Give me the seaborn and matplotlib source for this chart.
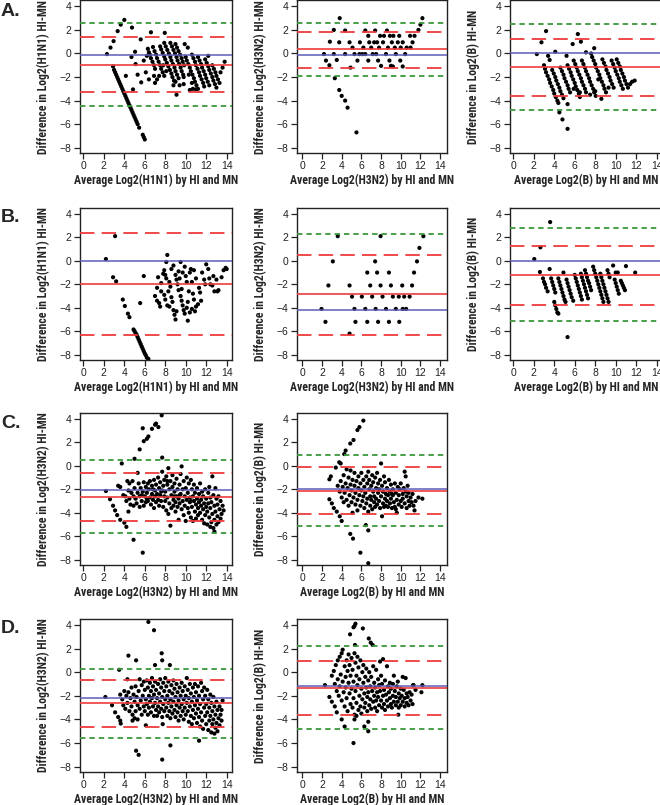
import matplotlib
matplotlib.use("Agg")
import matplotlib.pyplot as plt
import seaborn as sns
import pandas as pd

# ---------------- data ----------------
# Row A
A1_pts = [(2.3,-0.05),(2.65,0.5),(2.95,1.05),(3.35,1.9),(3.65,2.45),(4.0,2.85),
 (2.9,-1.1),(3.0,-1.4),(3.1,-1.6),(3.2,-1.8),(3.3,-2.0),(3.4,-2.2),(3.5,-2.4),(3.6,-2.6),(3.7,-2.8),
 (3.8,-3.0),(3.9,-3.2),(4.0,-3.4),(4.1,-3.6),(4.2,-3.8),(4.3,-4.0),(4.4,-4.2),(4.5,-4.4),(4.6,-4.6),
 (4.7,-4.8),(4.8,-5.0),(4.9,-5.2),(5.0,-5.4),(5.1,-5.6),(5.2,-5.8),(5.3,-6.0),(5.45,-6.3),(5.8,-6.9),(5.9,-7.1),(6.0,-7.3),
 (4.75,2.2),(5.6,1.2),(4.7,-0.3),(5.05,0.15),(5.1,-0.9),(5.3,-1.8),(4.15,-1.9),(4.85,-3.05),(5.65,-2.45),
 (6.1,-1.6),(6.4,-2.2),(6.6,1.8),(7.95,1.75),(9.1,-3.5),(5.9,-0.6),(6.2,-0.2),
 (6.3,0.4),(6.4,0.1),(6.5,-0.1),(6.6,-0.4),(6.75,-0.7),(6.9,-1.0),(7.0,-1.3),
 (6.8,0.55),(6.95,0.2),(7.1,-0.1),(7.2,-0.4),(7.35,-0.7),(7.5,-1.0),(7.6,-1.3),(7.75,-1.6),(7.9,-1.9),
 (7.5,0.6),(7.6,0.35),(7.75,0.05),(7.9,-0.25),(8.0,-0.5),(8.15,-0.8),(8.3,-1.1),(8.45,-1.4),(8.6,-1.7),(8.7,-2.0),(8.85,-2.3),
 (7.9,0.9),(8.05,0.6),(8.2,0.3),(8.35,0.0),(8.5,-0.3),(8.6,-0.6),(8.75,-0.9),(8.9,-1.2),(9.0,-1.5),(9.15,-1.8),(9.3,-2.1),
 (8.5,0.9),(8.65,0.6),(8.8,0.3),(8.95,0.0),(9.1,-0.3),(9.2,-0.6),(9.35,-0.9),(9.5,-1.2),(9.6,-1.5),(9.75,-1.8),
 (9.0,0.8),(9.15,0.5),(9.3,0.2),(9.45,-0.1),(9.6,-0.4),(9.7,-0.7),(9.85,-1.0),
 (7.2,-2.2),(7.4,-1.9),(7.0,-2.5),(6.9,-1.9),(7.8,-1.0),(8.1,-1.5),(8.8,-2.7),(9.0,-2.4),(9.4,-2.7),(9.8,-2.6),(9.9,0.8),(10.2,0.5),
 (10.0,-0.3),(10.1,-0.6),(10.25,-0.9),(10.4,-1.2),(10.5,-1.5),(10.65,-1.8),(10.8,-2.1),(10.9,-2.4),(11.05,-2.7),(11.2,-3.0),
 (10.6,-0.1),(10.75,-0.4),(10.9,-0.7),(11.0,-1.0),(11.15,-1.3),(11.3,-1.6),(11.4,-1.9),(11.55,-2.2),(11.7,-2.5),(11.8,-2.8),
 (11.2,-0.3),(11.35,-0.6),(11.5,-0.9),(11.6,-1.2),(11.75,-1.5),(11.9,-1.8),(12.0,-2.1),(12.15,-2.4),(12.3,-2.7),
 (11.9,-0.5),(12.05,-0.8),(12.2,-1.1),(12.3,-1.4),(12.45,-1.7),(12.6,-2.0),(12.7,-2.3),(12.85,-2.6),(13.0,-2.9),
 (12.6,-1.0),(12.75,-1.3),(12.9,-1.6),(13.0,-1.9),(13.15,-2.2),(13.3,-2.5),
 (10.4,-3.1),(10.7,-3.0),(11.0,-3.05),(13.4,-1.6),(13.6,-1.2),(13.8,-0.7),(12.2,-0.2),(10.6,-2.5),(9.8,-2.0),(10.3,-1.8)]

A2_pts = [(2.2,-0.05),(2.4,-0.6),(2.75,-1.0),(2.8,1.0),(3.2,2.0),(3.2,-0.05),(3.3,-2.1),(3.5,-0.55),
 (3.75,0.95),(3.8,3.0),(3.75,-3.1),(4.0,-3.6),(4.35,-4.0),(4.6,-4.6),(4.35,1.95),(4.35,-0.05),(4.8,0.95),
 (4.9,-1.2),(5.1,0.5),(5.5,-6.7),(5.3,-0.05),(5.6,-0.6),(5.85,0.95),(5.8,-0.05),(6.2,0.5),(6.4,1.95),
 (6.4,-0.05),(6.7,1.5),(6.8,0.95),(6.7,-0.6),(7.0,0.5),(7.15,-0.05),(7.4,1.95),(7.5,-0.05),(7.6,0.95),
 (7.7,-0.6),(7.8,0.5),(7.9,1.5),(8.0,-1.05),(8.2,0.95),(8.6,1.95),(8.3,1.5),(8.5,-0.05),(8.7,0.5),
 (8.85,-0.6),(8.9,1.5),(9.0,-1.05),(9.1,0.95),(9.2,-1.1),(9.25,1.5),(9.4,0.5),(9.5,-0.05),(9.7,0.95),
 (9.85,1.5),(9.95,-0.6),(10.0,0.5),(10.2,-1.1),(10.2,0.95),(10.45,-0.05),(10.6,0.5),(10.95,1.5),
 (11.0,0.5),(11.2,0.95),(11.4,1.5),(11.8,2.0),(12.0,2.45),(12.2,3.0),(7.3,0.95),(6.1,-0.05)]

A3_pts = [(2.3,-0.05),(2.75,0.95),(3.2,1.9),(3.4,-0.2),(3.55,-0.55),(4.1,0.15),(4.5,-5.0),(4.8,-5.6),
 (5.3,-6.4),(5.3,-4.3),(5.2,-0.2),(5.8,0.8),(6.3,1.65),(6.6,1.0),(7.1,0.1),(7.9,0.45),
 (3.0,-1.0),(3.1,-1.3),(3.2,-1.6),(3.35,-1.9),(3.5,-2.2),(3.6,-2.5),(3.75,-2.8),(3.9,-3.1),(4.0,-3.4),(4.15,-3.7),(4.3,-4.0),(4.4,-4.2),
 (3.8,-1.4),(3.95,-1.7),(4.1,-2.0),(4.2,-2.3),(4.35,-2.6),(4.5,-2.9),(4.6,-3.2),(4.75,-3.5),(4.9,-3.8),
 (4.6,-1.2),(4.75,-1.5),(4.9,-1.8),(5.0,-2.1),(5.15,-2.4),(5.3,-2.7),(5.4,-3.0),(5.55,-3.3),
 (5.3,-1.0),(5.45,-1.3),(5.6,-1.6),(5.7,-1.9),(5.85,-2.2),(6.0,-2.5),(6.1,-2.8),(6.25,-3.1),(6.4,-3.4),(6.5,-3.7),
 (5.9,-0.6),(6.05,-0.9),(6.2,-1.2),(6.3,-1.5),(6.45,-1.8),(6.6,-2.1),(6.7,-2.4),(6.85,-2.7),(7.0,-3.0),(7.1,-3.3),
 (6.7,-0.6),(6.85,-0.9),(7.0,-1.2),(7.1,-1.5),(7.25,-1.8),(7.4,-2.1),(7.5,-2.4),(7.65,-2.7),(7.8,-3.0),(7.9,-3.3),(8.05,-3.6),
 (7.6,0.0),(7.7,-0.3),(7.85,-0.6),(8.0,-0.9),(8.1,-1.2),(8.25,-1.5),(8.4,-1.8),(8.5,-2.1),(8.65,-2.4),(8.8,-2.7),(8.9,-3.0),(9.05,-3.3),(8.6,-3.85),
 (8.7,-0.5),(8.85,-0.8),(9.0,-1.1),(9.1,-1.4),(9.25,-1.7),(9.4,-2.0),(9.5,-2.3),(9.65,-2.6),(9.8,-2.9),
 (9.6,-0.6),(9.75,-0.9),(9.9,-1.2),(10.0,-1.5),(10.15,-1.8),(10.3,-2.1),(10.4,-2.4),(10.55,-2.7),(10.7,-3.0),
 (10.1,-0.5),(10.25,-0.8),(10.4,-1.1),(10.5,-1.4),(10.65,-1.7),(10.8,-2.0),(10.9,-2.3),(11.05,-2.6),(11.2,-2.9),
 (11.4,-2.6),(11.6,-2.4),(11.85,-2.3),(8.3,-2.2),(9.3,-2.9),(6.5,-3.3),(7.5,-3.5),(5.9,-3.0),(8.0,-3.2)]

# Row B
B1_pts = [(2.2,0.15),(3.1,2.1),(2.9,-1.4),(3.2,-1.75),(3.85,-3.3),(4.05,-3.85),(4.35,-4.5),(4.5,-4.8),
 (5.55,-3.6),(5.9,-1.3),
 (4.9,-5.85),(5.0,-6.0),(5.1,-6.15),(5.2,-6.3),(5.3,-6.5),(5.4,-6.7),(5.5,-6.9),(5.6,-7.1),(5.7,-7.3),
 (5.8,-7.5),(5.9,-7.7),(6.0,-7.9),(6.1,-8.05),(6.2,-8.25),(6.35,-8.35),
 (7.3,-1.4),(7.2,-2.3),(7.0,-3.0),(7.2,-3.4),(7.4,-3.6),(7.5,-3.9),(7.6,-2.6),(7.8,-1.1),(7.9,-0.8),
 (8.0,-1.2),(8.1,-1.5),(7.9,-2.9),(8.0,-3.3),(8.2,-3.8),(8.1,-0.1),(8.2,0.5),(8.4,-1.8),(8.5,-2.2),
 (8.3,-2.6),(8.6,-3.1),(8.7,-3.5),(8.8,-4.2),(8.9,-4.6),(9.0,-5.0),(8.8,-0.4),(9.0,-1.2),(9.1,-1.6),
 (9.2,-2.0),(9.3,-0.9),(9.4,-1.5),(9.5,-3.0),(9.6,-3.4),(9.7,-3.8),(9.8,-4.2),(9.9,-4.5),(9.5,-0.1),
 (9.6,-2.4),(9.7,-1.0),(9.9,-0.5),(10.0,-1.3),(10.1,-1.8),(10.2,-5.1),(10.1,-4.0),(10.3,-2.6),(10.4,-1.0),
 (10.5,-0.7),(10.6,-1.8),(10.7,-2.8),(10.8,-3.3),(10.9,-4.3),(10.6,-4.1),(10.8,-0.8),(11.0,-1.5),
 (11.3,-2.3),(11.4,-2.7),(11.5,-3.4),(11.6,-1.0),(11.8,-1.6),(11.9,-2.0),(12.0,-0.3),(12.2,-0.7),
 (12.3,-1.5),(12.4,-2.0),(12.7,-1.3),(12.8,-2.6),(13.0,-1.6),(13.1,-2.6),(13.2,-2.5),(13.5,-1.4),
 (13.7,-0.8),(14.0,-0.7),(12.6,-2.1),(11.2,-3.7),(10.2,-3.5),(9.3,-2.5),(8.6,-0.7),(7.6,-1.9),
 (8.4,-3.9),(9.1,-4.3),(10.4,-4.4),(11.0,-3.9),(13.9,-0.6)]

B2_pts = [(1.95,-4.1),(2.35,-5.2),(2.65,-2.1),(3.1,-0.05),(3.6,2.1),(4.8,-2.1),(4.8,-6.2),(5.05,-3.05),
 (5.3,-4.1),(5.4,-5.2),(6.05,-3.05),(6.4,-4.1),(6.6,-1.0),(6.6,-5.2),(6.9,-2.1),(7.1,-3.05),(7.4,-0.05),
 (7.45,-4.1),(7.6,-1.0),(7.7,-5.2),(7.95,2.1),(7.95,-2.1),(8.15,-3.05),(8.5,-4.1),(8.8,-1.0),(8.8,-5.2),
 (9.0,-2.1),(9.2,-3.05),(9.5,-4.1),(9.8,-3.05),(9.85,-5.2),(10.15,-2.1),(10.35,-3.05),(10.2,-4.1),
 (10.55,-4.1),(10.9,-3.05),(11.15,-2.1),(11.35,-1.0),(11.65,-0.05),(11.9,1.1),(12.3,2.1)]

B3_pts = [(2.05,0.15),(2.65,1.15),(2.6,-0.95),(3.6,3.3),(3.55,-0.7),(5.3,-6.5),(4.9,-1.0),
 (2.9,-1.5),(3.0,-1.8),(3.1,-2.0),(3.2,-2.3),(3.35,-2.6),
 (3.7,-1.5),(3.8,-1.8),(3.9,-2.1),(4.0,-2.4),(4.1,-2.7),
 (4.0,-3.5),(4.1,-3.8),(4.2,-4.1),(4.3,-4.4),(4.4,-4.5),
 (4.4,-1.5),(4.5,-1.8),(4.6,-2.1),(4.7,-2.4),(4.8,-2.7),(4.9,-3.0),(5.0,-3.3),(5.1,-3.5),
 (5.2,-1.6),(5.3,-1.9),(5.4,-2.2),(5.5,-2.5),(5.6,-2.8),(5.7,-3.1),(5.85,-3.4),
 (6.0,-1.2),(6.1,-1.5),(6.2,-1.8),(6.3,-2.1),(6.4,-2.4),(6.5,-2.7),(6.6,-3.0),(6.7,-3.3),
 (6.6,-1.1),(6.7,-1.4),(6.8,-1.7),(6.9,-2.0),(7.0,-2.3),(7.1,-2.6),(7.2,-2.9),(7.3,-3.2),
 (7.0,-0.8),(7.1,-1.1),(7.2,-1.4),(7.3,-1.7),(7.4,-1.9),(7.5,-2.2),(7.6,-2.5),
 (7.8,-0.5),(7.9,-0.8),(8.0,-1.1),(8.1,-1.4),(8.2,-1.7),(8.3,-2.0),(8.4,-2.3),(8.5,-2.6),(8.6,-2.9),(8.7,-3.2),(8.8,-3.5),
 (8.5,-1.1),(8.6,-1.4),(8.7,-1.7),(8.8,-2.0),(8.9,-2.3),(9.0,-2.6),(9.1,-2.9),(9.2,-3.2),(9.3,-3.5),
 (9.2,-0.8),(9.3,-1.1),(9.4,-1.4),
 (9.75,-0.4),(10.0,-1.0),(9.9,-1.6),(10.0,-1.9),(10.1,-2.2),(10.2,-2.5),(10.3,-2.8),
 (10.5,-1.7),(10.6,-1.9),(10.7,-2.1),(10.8,-2.3),(10.9,-2.5),(10.2,-1.0),(11.0,-0.45),(11.9,-1.0)]

# Row C
C1_pts = [(2.2,-2.15),(2.6,-2.85),(2.9,-3.4),(3.1,-3.8),(3.3,-4.2),(3.6,-4.6),(4.0,-4.85),(4.2,-5.2),
 (3.4,-1.7),(4.9,-6.3),(5.8,-7.4),
 (5.5,1.4),(5.8,3.2),(5.9,2.1),(6.2,2.3),(6.35,2.5),(6.7,3.15),(7.0,3.5),(7.1,3.6),(7.33,3.3),(7.65,4.3),
 (7.7,0.7),(5.0,0.6),(3.75,0.2),
 (3.6,-1.8),(3.9,-2.5),(4.1,-2.6),(4.2,-3.0),(4.3,-1.3),(4.4,-2.1),(4.5,-1.5),(4.5,-2.8),(4.6,-3.3),
 (4.7,-2.3),(4.8,-1.3),(4.9,-2.6),(4.9,-3.4),(4.4,-3.9),
 (5.0,-1.9),(5.1,-2.8),(5.2,-3.2),(5.3,-2.3),(5.3,-0.6),(5.4,-1.5),(5.5,-2.6),(5.5,-3.5),(5.6,-1.9),
 (5.7,-3.0),(5.8,-2.2),(5.9,-1.4),(5.9,-3.4),(6.0,-2.6),(6.1,-1.8),(6.1,-3.1),(6.2,-2.3),(6.3,-1.5),
 (6.3,-3.0),(6.4,-2.0),(6.5,-2.7),(6.5,-1.3),(6.6,-3.3),(6.7,-2.4),(6.7,-1.7),(6.8,-2.9),(6.9,-1.2),
 (6.9,-3.6),(7.0,-2.1),(7.0,-2.6),(7.1,-1.6),(7.1,-3.1),(7.2,-2.4),(7.3,-1.0),(7.3,-2.9),(7.4,-1.9),
 (7.4,-3.4),(7.5,-2.5),(7.5,-1.4),(7.6,-3.0),(7.7,-2.1),(7.7,-0.5),(7.8,-1.7),(7.8,-3.5),(7.9,-2.6),
 (7.9,-1.2),(8.0,-3.0),(8.0,-2.2),(8.1,-0.9),(8.1,-3.8),(8.2,-1.6),(8.2,-2.7),(8.3,-4.1),(8.3,-0.2),
 (8.4,-2.0),(8.4,-3.2),(8.5,-1.3),(8.5,-5.1),(8.6,-2.5),(8.6,-3.6),(8.7,-1.8),(8.7,-0.8),(8.8,-2.9),
 (8.8,-3.4),(8.9,-2.2),(8.9,-1.5),(9.0,-3.1),(9.0,-3.9),(9.1,-2.6),(9.1,-1.1),(9.2,-2.0),(9.2,-3.5),
 (9.3,-2.8),(9.3,-4.6),(9.4,-1.6),(9.4,-3.2),(9.5,-2.4),(9.5,-0.7),(9.6,-3.7),(9.6,-0.05),(9.7,-2.0),
 (9.7,-3.0),(9.8,-1.3),(9.8,-4.2),(9.9,-2.6),(9.9,-3.4),(10.0,-1.9),(10.0,-4.7),(10.1,-2.9),(10.1,-1.0),
 (10.2,-3.6),(10.2,-2.3),(10.3,-4.0),(10.3,-1.5),(10.4,-3.1),(10.4,-2.7),(10.5,-4.4),(10.5,-1.2),
 (10.6,-2.0),(10.6,-3.5),(10.7,-4.7),(10.7,-2.6),(10.8,-3.0),(10.8,-1.6),(10.9,-3.9),(10.9,-2.3),
 (11.0,-3.3),(11.0,-4.5),(11.1,-1.9),(11.1,-2.8),(11.2,-3.6),(11.2,-4.2),(11.3,-2.4),(11.3,-3.1),
 (11.4,-1.5),(11.4,-4.0),(11.5,-2.9),(11.5,-3.4),(11.6,-4.6),(11.6,-2.2),(11.7,-3.7),(11.7,-2.6),
 (11.8,-4.9),(11.8,-3.2),(11.9,-2.0),(11.9,-4.2),(12.0,-3.5),(12.0,-2.8),(12.1,-5.0),(12.1,-3.9),
 (12.2,-2.3),(12.2,-3.2),(12.3,-4.4),(12.3,-1.8),(12.4,-3.6),(12.4,-2.7),(12.5,-4.8),(12.5,-3.1),
 (12.6,-0.9),(12.6,-4.1),(12.7,-2.5),(12.7,-5.3),(12.8,-3.4),(12.8,-4.6),(12.9,-1.9),(12.9,-3.9),
 (13.0,-5.0),(13.0,-2.8),(13.1,-4.3),(13.1,-3.3),(13.2,-4.8),(13.2,-2.6),(13.3,-3.7),(13.4,-4.5),
 (13.4,-3.0),(13.5,-4.1),(13.6,-3.4),(13.7,-3.8),(12.8,-5.6),(12.4,-5.2),(8.2,-1.3),(7.6,-2.2),
 (6.8,-2.0),(6.2,-2.8),(5.7,-2.5),(8.9,-2.6),(9.4,-2.5),(10.5,-3.0)]

C2_pts = [(4.26,1.0),(4.4,1.3),(4.87,1.9),(5.2,2.2),(5.6,3.05),(5.8,3.3),(6.2,3.85),
 (2.75,-2.85),(3.0,-3.2),(3.2,-3.6),(3.5,-3.9),(3.8,-4.3),(4.0,-4.7),(4.87,-5.8),(5.15,-6.2),
 (5.9,-7.4),(6.7,-8.3),(6.45,-5.05),(6.7,-5.5),
 (2.75,-1.15),(2.9,-0.9),(3.4,-0.15),(3.75,0.3),(3.9,0.2),
 (3.6,-1.7),(3.8,-2.2),(3.9,-1.3),(4.0,-2.7),(4.1,-1.8),(4.2,-0.8),(4.2,-3.1),(4.3,-2.3),(4.4,-1.5),
 (4.5,-2.9),(4.5,-0.3),(4.6,-1.9),(4.7,-3.4),(4.7,-1.0),(4.8,-2.5),(4.9,-1.6),(4.9,-0.4),(5.0,-3.1),
 (5.0,-2.1),(5.1,-1.2),(5.1,-4.0),(5.2,-2.7),(5.3,-1.7),(5.3,-0.6),(5.4,-3.3),(5.4,-2.3),(5.5,-1.3),
 (5.6,-2.9),(5.6,-3.8),(5.7,-1.9),(5.7,-0.9),(5.8,-2.5),(5.9,-3.4),(5.9,-1.5),(6.0,-2.1),(6.0,-0.6),
 (6.1,-3.0),(6.2,-1.2),(6.2,-2.6),(6.3,-3.6),(6.3,-1.8),(6.4,-2.3),(6.5,-0.9),(6.5,-3.2),(6.6,-1.5),
 (6.6,-2.8),(6.7,-0.5),(6.7,-3.9),(6.8,-2.0),(6.8,-1.2),(6.9,-2.6),(6.9,-3.4),(7.0,-1.7),(7.0,-2.9),
 (7.1,-0.8),(7.1,-3.7),(7.2,-2.2),(7.2,-1.4),(7.3,-3.1),(7.3,-2.6),(7.4,-1.0),(7.4,-3.5),(7.5,-1.9),
 (7.5,-2.8),(7.6,-0.6),(7.6,-3.3),(7.7,-2.3),(7.7,-1.5),(7.8,-3.0),(7.8,-2.0),(7.9,-1.2),(7.9,-3.6),
 (8.0,-2.6),(8.0,0.2),(8.1,-1.7),(8.1,-4.3),(8.2,-3.2),(8.2,-2.2),(8.3,-0.9),(8.3,-3.5),(8.4,-1.4),
 (8.4,-2.8),(8.5,-3.4),(8.6,-1.9),(8.6,-3.0),(8.7,-2.5),(8.7,-3.5),(8.8,-1.2),(8.9,-2.2),(8.9,-3.2),
 (9.0,-1.6),(9.0,-2.8),(9.1,-3.6),(9.2,-2.0),(9.2,-2.5),(9.3,-3.1),(9.4,-1.5),(9.4,-3.5),(9.5,-2.3),
 (9.6,-2.9),(9.6,-4.0),(9.7,-1.8),(9.8,-3.3),(9.8,-2.5),(9.9,-2.0),(10.0,-3.0),(10.0,-1.5),(10.1,-3.5),
 (10.2,-2.4),(10.2,-2.8),(10.3,-1.9),(10.4,-3.2),(10.4,-0.5),(10.5,-2.2),(10.5,-0.9),(10.6,-3.6),
 (10.6,-2.6),(10.7,-1.7),(10.8,-3.0),(10.8,-2.3),(10.9,-3.4),(11.0,-2.7),(11.1,-3.1),(11.2,-2.4),
 (11.3,-3.4),(11.4,-3.8),(11.5,-3.0),(11.8,-2.7),(12.2,-2.8),(9.5,-3.7),(9.1,-2.4),(8.5,-2.4)]

# Row D
D1_pts = [(6.35,4.25),(6.9,3.55),(7.65,1.6),(7.7,1.0),(4.4,1.4),(5.15,1.0),(7.0,0.6),(8.45,0.6),
 (3.5,0.2),(5.15,-6.65),(5.4,-7.0),(8.5,-6.2),(7.7,-7.4),(6.1,-4.5),(7.75,-4.4),(11.3,-5.8),
 (2.15,-2.1),(2.8,-2.8),(3.1,-3.4),(3.4,-3.8),(3.6,-4.1),(3.65,-4.35),(4.8,-4.1),(5.0,-3.9),
 (3.6,-1.9),(3.8,-2.3),(3.9,-2.8),(4.0,-1.6),(4.1,-3.1),(4.2,-2.0),(4.3,-0.6),(4.3,-2.6),(4.4,-1.7),
 (4.5,-3.3),(4.6,-2.2),(4.7,-1.3),(4.7,-2.9),(4.8,-3.6),(4.9,-1.9),(5.0,-2.5),(5.1,-3.3),(5.1,-1.2),
 (5.2,-2.1),(5.3,-2.8),(5.3,-4.0),(5.4,-1.6),(5.5,-3.1),(5.5,-0.6),(5.6,-2.4),(5.7,-1.1),(5.7,-3.6),
 (5.8,-2.0),(5.9,-2.9),(5.9,-0.8),(6.0,-1.5),(6.0,-3.3),(6.1,-2.3),(6.2,-0.7),(6.2,-2.7),(6.3,-1.3),
 (6.3,-3.6),(6.4,-2.0),(6.4,-3.0),(6.5,-0.9),(6.5,-2.5),(6.6,-1.6),(6.6,-3.4),(6.7,-2.2),(6.7,-0.5),
 (6.8,-2.9),(6.8,-1.2),(6.9,-3.7),(6.9,-1.9),(7.0,-2.6),(7.0,-0.8),(7.1,-3.2),(7.1,-1.5),(7.2,-2.2),
 (7.2,-3.7),(7.3,-1.0),(7.3,-2.9),(7.4,-1.8),(7.4,-3.4),(7.5,-0.6),(7.5,-2.5),(7.6,-1.3),(7.6,-3.1),
 (7.7,-2.1),(7.7,-3.8),(7.8,-0.9),(7.8,-2.7),(7.9,-1.6),(7.9,-3.3),(8.0,-2.3),(8.0,-0.5),(8.1,-3.0),
 (8.1,-1.2),(8.2,-3.7),(8.2,-2.0),(8.3,-2.6),(8.3,-0.8),(8.4,-3.3),(8.4,-1.6),(8.5,-2.3),(8.5,-3.9),
 (8.6,-1.1),(8.6,-2.9),(8.7,-1.8),(8.7,-3.5),(8.8,-2.5),(8.8,-0.7),(8.9,-3.2),(8.9,-1.4),(9.0,-2.1),
 (9.0,-3.8),(9.1,-2.8),(9.1,-1.0),(9.2,-3.4),(9.2,-1.7),(9.3,-2.4),(9.3,-4.1),(9.4,-3.0),(9.4,-1.3),
 (9.5,-2.0),(9.5,-3.7),(9.6,-2.7),(9.6,-0.9),(9.7,-3.3),(9.7,-1.6),(9.8,-2.3),(9.8,-4.0),(9.9,-1.2),
 (9.9,-3.0),(10.0,-2.0),(10.0,-3.6),(10.1,-0.5),(10.1,-2.6),(10.2,-1.5),(10.2,-3.3),(10.3,-4.2),
 (10.3,-2.2),(10.4,-1.0),(10.4,-2.9),(10.5,-3.7),(10.5,-1.8),(10.6,-2.5),(10.6,-4.4),(10.7,-1.3),
 (10.7,-3.2),(10.8,-2.1),(10.8,-3.9),(10.9,-1.0),(10.9,-2.8),(11.0,-3.5),(11.0,-1.7),(11.1,-4.3),
 (11.1,-2.4),(11.2,-3.1),(11.2,-1.2),(11.3,-3.8),(11.3,-2.0),(11.4,-4.6),(11.4,-2.7),(11.5,-0.9),
 (11.5,-3.4),(11.6,-1.6),(11.6,-4.1),(11.7,-2.3),(11.7,-4.8),(11.8,-3.0),(11.8,-1.3),(11.9,-3.7),
 (11.9,-2.0),(12.0,-4.4),(12.0,-2.7),(12.1,-1.5),(12.1,-3.4),(12.2,-4.9),(12.2,-2.3),(12.3,-4.1),
 (12.3,-3.0),(12.4,-1.9),(12.4,-3.7),(12.5,-5.1),(12.5,-2.6),(12.6,-4.4),(12.6,-3.3),(12.7,-2.1),
 (12.7,-4.0),(12.8,-5.2),(12.8,-2.9),(12.9,-3.6),(12.9,-4.7),(13.0,-2.5),(13.0,-4.3),(13.1,-3.2),
 (13.1,-5.0),(13.2,-3.9),(13.3,-4.5),(13.3,-2.9),(13.4,-3.6),(13.5,-4.1),(13.6,-2.4),(13.5,-3.2)]

D2_pts = [(4.85,3.2),(5.2,3.8),(5.3,3.9),(5.4,4.1),(6.15,3.7),(6.75,2.85),(6.95,2.5),(7.15,2.3),(5.35,2.3),
 (2.3,-1.1),(2.75,-2.1),(3.0,-2.5),(3.3,-2.9),(3.5,-3.4),(4.0,-4.0),(4.3,-4.6),(5.2,-6.0),(6.3,-4.6),
 (6.7,-5.0),(6.7,-4.2),(5.3,-4.0),(5.5,-3.7),(9.75,-3.6),(11.25,-1.1),(12.1,-1.7),(12.2,-1.1),
 (3.0,-0.3),(3.2,0.1),(3.3,-1.0),(3.4,0.6),(3.5,-1.6),(3.6,1.0),(3.6,-0.6),(3.7,-2.0),(3.8,1.3),
 (3.8,-1.2),(3.9,-0.2),(4.0,1.6),(4.0,-2.4),(4.1,1.9),(4.1,-0.8),(4.2,-1.7),(4.3,0.5),(4.3,-2.9),
 (4.4,-0.4),(4.4,-1.3),(4.5,1.0),(4.5,-2.2),(4.6,0.1),(4.6,-3.3),(4.7,1.5),(4.7,-0.9),(4.8,-1.8),
 (4.8,0.6),(4.9,-2.7),(4.9,-0.3),(5.0,1.2),(5.0,-1.4),(5.1,-3.0),(5.1,0.2),(5.2,-0.8),(5.2,-2.2),
 (5.3,1.6),(5.3,-3.6),(5.4,-1.6),(5.4,0.8),(5.5,-0.3),(5.5,-2.6),(5.6,1.3),(5.6,-1.1),(5.7,-3.2),
 (5.7,0.4),(5.8,-2.0),(5.8,-0.6),(5.9,-2.9),(5.9,1.0),(6.0,-1.4),(6.0,-3.5),(6.1,0.0),(6.1,-2.3),
 (6.2,-0.9),(6.2,0.6),(6.3,-1.8),(6.3,-3.0),(6.4,-0.4),(6.4,-2.6),(6.5,-1.3),(6.5,0.3),(6.6,-2.1),
 (6.6,-3.3),(6.7,-0.7),(6.7,-1.7),(6.8,0.0),(6.8,-2.8),(6.9,-1.2),(6.9,-2.3),(7.0,-0.4),(7.0,-3.1),
 (7.1,-1.6),(7.2,-2.5),(7.2,0.5),(7.3,-0.9),(7.3,-2.0),(7.4,-3.0),(7.4,-1.3),(7.5,0.2),(7.5,-2.4),
 (7.6,-1.7),(7.6,-3.3),(7.7,-0.6),(7.7,-2.1),(7.8,-1.1),(7.8,-2.8),(7.9,0.9),(7.9,-1.6),(8.0,-2.4),
 (8.0,-0.3),(8.1,-3.0),(8.1,-1.0),(8.2,-2.0),(8.2,1.1),(8.3,-1.5),(8.3,-2.7),(8.4,-0.7),(8.4,-3.2),
 (8.5,-1.9),(8.6,-2.4),(8.6,0.5),(8.7,-1.2),(8.7,-2.9),(8.8,-1.7),(8.9,-2.2),(8.9,-0.9),(9.0,-2.7),
 (9.0,-1.4),(9.1,-3.0),(9.2,-2.0),(9.2,-1.0),(9.3,-2.5),(9.3,-0.3),(9.4,-1.6),(9.5,-2.8),(9.5,-2.1),
 (9.6,-1.2),(9.7,-2.5),(9.7,-0.8),(9.8,-1.8),(9.8,-3.0),(9.9,-2.2),(10.0,-1.4),(10.0,-2.8),(10.1,-2.0),
 (10.2,-0.4),(10.2,-2.5),(10.3,-1.5),(10.4,-2.2),(10.4,-2.9),(10.5,-0.5),(10.6,-1.8),(10.6,-2.6),
 (10.7,-2.1),(10.8,-2.8),(10.9,-1.7),(11.0,-2.4),(11.1,-1.9),(11.2,-2.7),(11.3,-1.1),(11.5,-1.5)]

# Reference lines per panel: (blue, red mean, red limits, green limits)
blue_lines = {"A1": -0.15, "A2": -0.15, "A3": 0.0, "B1": -0.05, "B2": -4.2, "B3": -0.05,
              "C1": -2.1, "C2": -2.0, "D1": -2.2, "D2": -1.15}
red_lines = {"A1": -0.95, "A2": 0.38, "A3": -1.15, "B1": -1.95, "B2": -2.8, "B3": -1.25,
             "C1": -2.65, "C2": -2.15, "D1": -2.65, "D2": -1.35}
red_dash = {"A1": [1.4, -3.3], "A2": [1.8, -1.25], "A3": [1.2, -3.6], "B1": [2.4, -6.35],
            "B2": [0.5, -6.35], "B3": [1.3, -3.8], "C1": [-0.6, -4.7], "C2": [-0.1, -4.1],
            "D1": [-0.7, -4.6], "D2": [0.95, -3.6]}
green_dash = {"A1": [2.6, -4.5], "A2": [2.6, -1.95], "A3": [2.5, -4.8], "B1": [],
              "B2": [2.3], "B3": [2.8, -5.1], "C1": [0.5, -5.7], "C2": [0.9, -5.1],
              "D1": [0.3, -5.6], "D2": [2.2, -4.8]}
subtypes = {"A1": "H1N1", "A2": "H3N2", "A3": "B", "B1": "H1N1", "B2": "H3N2", "B3": "B",
            "C1": "H3N2", "C2": "B", "D1": "H3N2", "D2": "B"}
points = {"A1": A1_pts, "A2": A2_pts, "A3": A3_pts, "B1": B1_pts, "B2": B2_pts, "B3": B3_pts,
          "C1": C1_pts, "C2": C2_pts, "D1": D1_pts, "D2": D2_pts}
row_letters = ["A.", "B.", "C.", "D."]
x_ticks = [0, 2, 4, 6, 8, 10, 12, 14]
y_ticks = [4, 2, 0, -2, -4, -6, -8]

# ---------------- layout ----------------
W, H = 660, 805
sns.set_style("ticks")
plt.rcParams["font.family"] = ["Liberation Sans", "DejaVu Sans"]
fig = plt.figure(figsize=(W / 100, H / 100), dpi=100)

col_px = {1: (80, 152), 2: (297, 150), 3: (510, 152)}
col_xlim = {1: (-0.33, 14.52), 2: (-0.54, 14.7), 3: (-0.32, 14.52)}
row_px = {"A": (0.5, 152.5), "B": (208, 152), "C": (413, 152), "D": (619, 153)}
ylim = (-8.45, 4.5)

BLUE = "#5d5db8"
RED = "#ee3b3b"
GREEN = "#3a9a3a"
label_font = ["Liberation Sans Narrow", "Roboto Condensed", "DejaVu Sans"]

for key, pts in points.items():
    r, c = key[0], int(key[1])
    lx, w = col_px[c]
    ty, h = row_px[r]
    ax = fig.add_axes([lx / W, 1 - (ty + h) / H, w / W, h / H])
    df = pd.DataFrame(pts, columns=["avg", "diff"])
    sns.scatterplot(data=df, x="avg", y="diff", ax=ax, color="black", s=9,
                    linewidth=0, edgecolor="none", zorder=2, clip_on=True)
    ax.axhline(blue_lines[key], color=BLUE, lw=1.1, zorder=3)
    ax.axhline(red_lines[key], color=RED, lw=1.2, zorder=3)
    for v in red_dash[key]:
        ax.axhline(v, color=RED, lw=1.3, dashes=(8, 4), zorder=3)
    for v in green_dash[key]:
        ax.axhline(v, color=GREEN, lw=1.3, dashes=(3, 2.2), zorder=3)
    ax.set_xlim(*col_xlim[c])
    ax.set_ylim(*ylim)
    ax.set_xticks(x_ticks)
    ax.set_yticks(y_ticks)
    ax.tick_params(axis="both", direction="out", length=4, width=0.9, labelsize=7.5,
                   colors="#222222", pad=2)
    for s in ax.spines.values():
        s.set_visible(True)
        s.set_linewidth(1.0)
        s.set_color("#222222")
    st = subtypes[key]
    ax.set_xlabel(f"Average Log2({st}) by HI and MN", fontsize=8.5, fontweight="bold",
                  family=label_font)
    ax.set_ylabel(f"Difference in Log2({st}) HI-MN", fontsize=8.5, fontweight="bold",
                  family=label_font)
    ax.xaxis.set_label_coords(0.5, -27 / h)
    ax.xaxis.label.set_va("center")
    ax.yaxis.set_label_coords(-37 / w, 0.5)
    ax.yaxis.label.set_va("center")

letter_y = [12, 218, 423, 628]
for L, yy in zip(row_letters, letter_y):
    fig.text(1 / W, 1 - yy / H, L, fontsize=14, fontweight="bold", ha="left", va="center",
             family=["Liberation Sans", "DejaVu Sans"])

fig.savefig("out.png", dpi=100)
